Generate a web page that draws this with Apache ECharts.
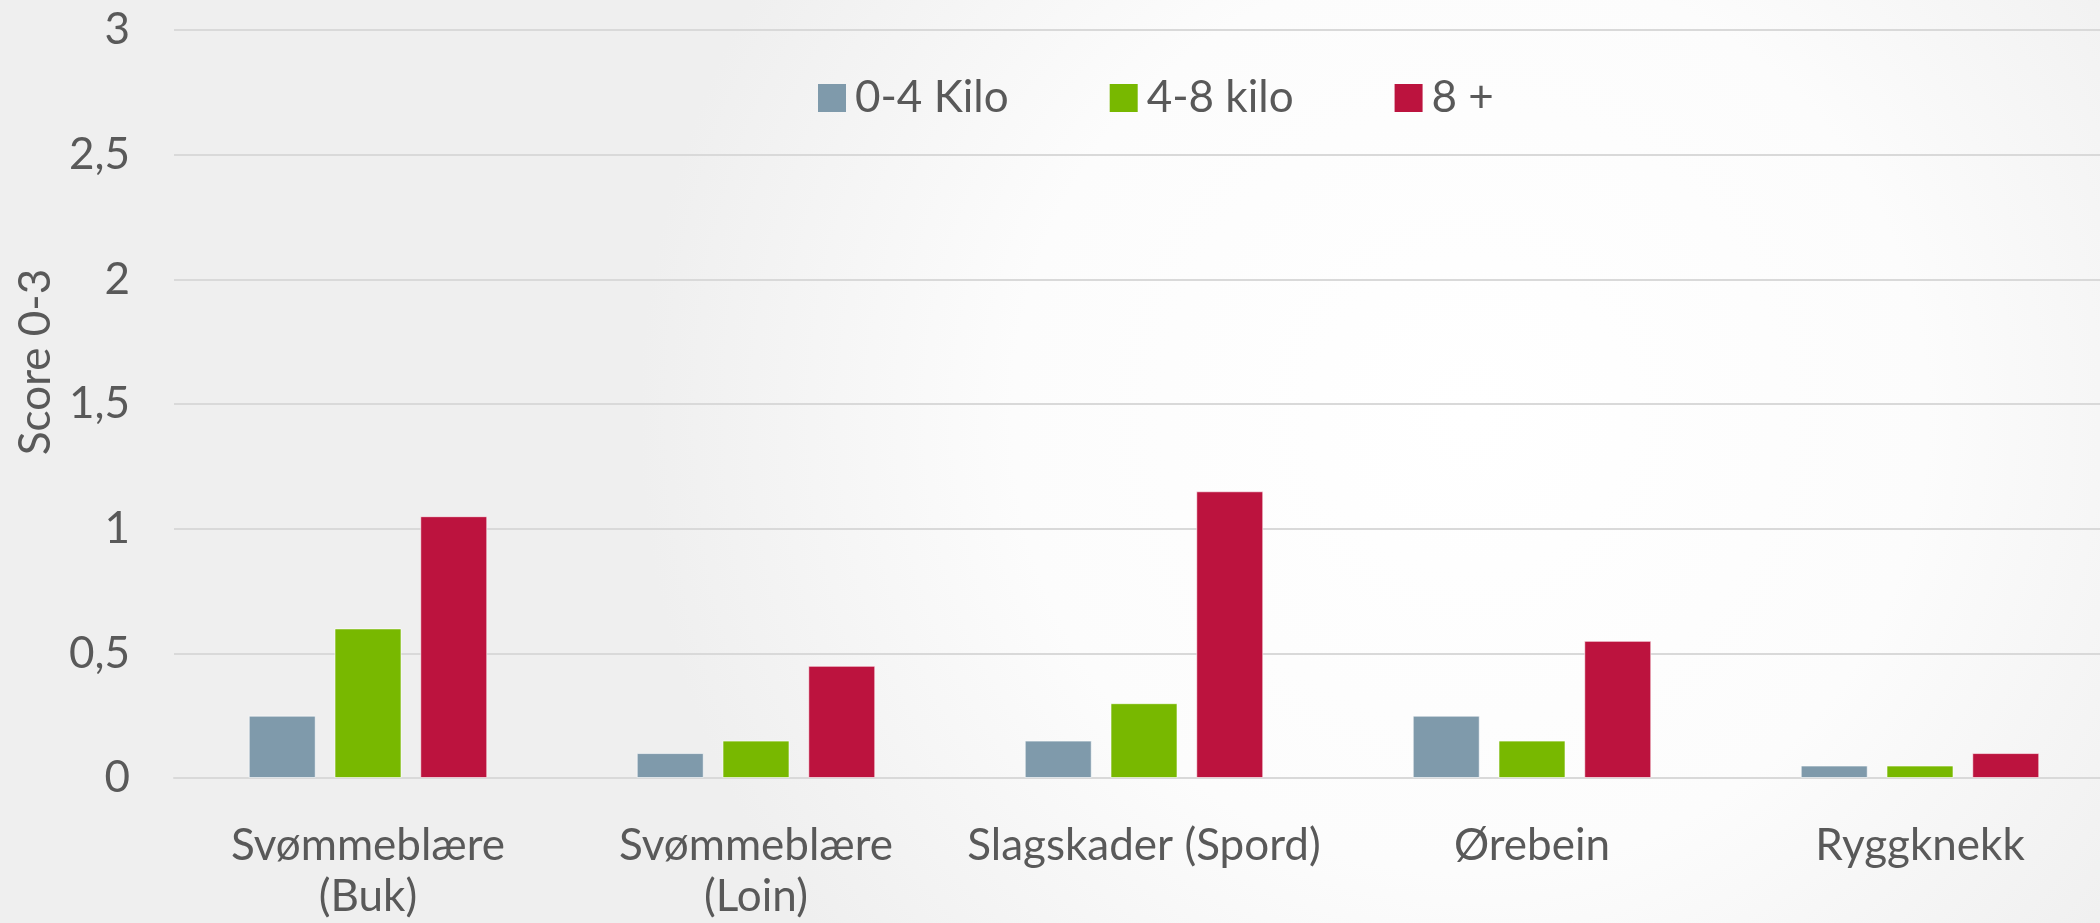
<!DOCTYPE html>
<html lang="no">
  <head>
    <meta charset="UTF-8" />
    <title>Score 0-3</title>
    <script src="https://cdn.jsdelivr.net/npm/echarts@6/dist/echarts.min.js"></script>
    <style>
      html, body { margin: 0; padding: 0; }
      #main { width: 2100px; height: 923px; }
    </style>
  </head>
  <body>
    <div id="main"></div>
    <script>
      // kategorier og verdier lest av figuren
      var categories = ['Svømmeblære\n(Buk)', 'Svømmeblære\n(Loin)', 'Slagskader (Spord)', 'Ørebein', 'Ryggknekk'];
      var seriesNames = ['0-4 Kilo', '4-8 kilo', '8 +'];
      var kilo0to4 = [0.25, 0.1, 0.15, 0.25, 0.05];
      var kilo4to8 = [0.6, 0.15, 0.3, 0.15, 0.05];
      var kilo8plus = [1.05, 0.45, 1.15, 0.55, 0.1];
      var colors = ['#7F9AAB', '#78B800', '#BC133E'];

      var font = 'Lato';
      var textColor = '#595959';

      function bar(name, data, color) {
        return {
          name: name,
          type: 'bar',
          data: data,
          barWidth: 67,
          barGap: '28%',
          itemStyle: { color: color, borderColor: 'rgba(255,255,255,0.6)', borderWidth: 1 }
        };
      }

      var chart = echarts.init(document.getElementById('main'));
      chart.setOption({
        backgroundColor: new echarts.graphic.RadialGradient(0.7, 0.45, 0.9, [
          { offset: 0, color: '#ffffff' },
          { offset: 0.55, color: '#fcfcfc' },
          { offset: 1, color: '#efefef' }
        ]),
        textStyle: { fontFamily: font, color: textColor },
        legend: {
          left: 813,
          top: 69,
          itemWidth: 28,
          itemHeight: 28,
          itemGap: 101,
          icon: 'rect',
          itemStyle: { borderWidth: 0 },
          data: seriesNames,
          textStyle: { fontFamily: font, fontSize: 44, color: textColor, lineHeight: 48, padding: [0, 0, 0, 4] }
        },
        grid: { left: 174, right: -14, top: 30, bottom: 145, containLabel: false, outerBoundsMode: 'none' },
        xAxis: {
          type: 'category',
          data: categories,
          axisLine: { lineStyle: { color: '#d9d9d9', width: 2 } },
          axisTick: { show: false },
          axisLabel: {
            interval: 0,
            margin: 42,
            fontFamily: font,
            fontSize: 44,
            lineHeight: 51,
            color: textColor
          }
        },
        yAxis: {
          type: 'value',
          min: 0,
          max: 3,
          interval: 0.5,
          name: 'Score 0-3',
          nameLocation: 'middle',
          nameGap: 108,
          nameTextStyle: { fontFamily: font, fontSize: 44, color: textColor, padding: [0, 0, 0, 84] },
          axisLine: { show: false },
          axisTick: { show: false },
          splitLine: { lineStyle: { color: '#d9d9d9', width: 2 } },
          axisLabel: {
            margin: 44,
            fontFamily: font,
            fontSize: 44,
            color: textColor,
            formatter: function (v) { return String(v).replace('.', ','); }
          }
        },
        series: [
          bar(seriesNames[0], kilo0to4, colors[0]),
          bar(seriesNames[1], kilo4to8, colors[1]),
          bar(seriesNames[2], kilo8plus, colors[2])
        ]
      });
    </script>
  </body>
</html>
